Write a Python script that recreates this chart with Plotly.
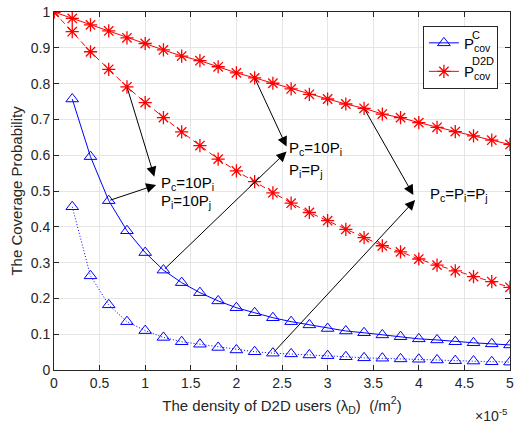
import plotly.graph_objects as go

# x values in units of 1e-5 /m^2
x_red = [0.0, 0.2, 0.4, 0.6, 0.8, 1.0, 1.2, 1.4, 1.6, 1.8, 2.0, 2.2, 2.4, 2.6, 2.8, 3.0,
         3.2, 3.4, 3.6, 3.8, 4.0, 4.2, 4.4, 4.6, 4.8, 5.0]
x_blue = [0.2, 0.4, 0.6, 0.8, 1.0, 1.2, 1.4, 1.6, 1.8, 2.0, 2.2, 2.4, 2.6, 2.8, 3.0,
          3.2, 3.4, 3.6, 3.8, 4.0, 4.2, 4.4, 4.6, 4.8, 5.0]

d2d_equal = [1.0, 0.982, 0.964, 0.947, 0.928, 0.912, 0.894, 0.877, 0.864, 0.847, 0.830,
             0.816, 0.801, 0.785, 0.770, 0.757, 0.743, 0.731, 0.715, 0.705, 0.691,
             0.678, 0.666, 0.654, 0.642, 0.630]
d2d_10 = [1.0, 0.945, 0.889, 0.840, 0.791, 0.747, 0.705, 0.665, 0.627, 0.589, 0.556,
          0.526, 0.495, 0.466, 0.440, 0.417, 0.393, 0.370, 0.347, 0.330, 0.310,
          0.293, 0.277, 0.261, 0.247, 0.231]
cell_10 = [0.757, 0.596, 0.473, 0.389, 0.328, 0.279, 0.244, 0.216, 0.193, 0.174, 0.160,
           0.146, 0.135, 0.126, 0.116, 0.109, 0.104, 0.098, 0.093, 0.087, 0.084,
           0.079, 0.076, 0.073, 0.070]
cell_equal = [0.456, 0.263, 0.182, 0.135, 0.110, 0.091, 0.079, 0.072, 0.063, 0.056,
              0.051, 0.047, 0.045, 0.042, 0.040, 0.037, 0.034, 0.033, 0.031, 0.030,
              0.028, 0.026, 0.025, 0.023, 0.022]

x_ticks = [0, 0.5, 1, 1.5, 2, 2.5, 3, 3.5, 4, 4.5, 5]
x_tick_labels = ["0", "0.5", "1", "1.5", "2", "2.5", "3", "3.5", "4", "4.5", "5"]
y_ticks = [0, 0.1, 0.2, 0.3, 0.4, 0.5, 0.6, 0.7, 0.8, 0.9, 1]
y_tick_labels = ["0", "0.1", "0.2", "0.3", "0.4", "0.5", "0.6", "0.7", "0.8", "0.9", "1"]

SCALE = 1e-5
FONT = "Liberation Sans, Arial, sans-serif"
DARK = "#262626"
BLUE = "#0000FF"
RED = "#FF0000"

fig = go.Figure()

fig.add_trace(go.Scatter(x=[v * SCALE for v in x_blue], y=cell_10, mode="lines+markers",
                         name="P<sub>cov</sub>", legendgroup="a",
                         line=dict(color=BLUE, width=1),
                         marker=dict(symbol="triangle-up-open", size=11, color=BLUE, line=dict(width=1))))
fig.add_trace(go.Scatter(x=[v * SCALE for v in x_red], y=d2d_equal, mode="lines+markers",
                         name="P<sub>cov</sub>", legendgroup="b",
                         line=dict(color=RED, width=1),
                         marker=dict(symbol="asterisk-open", size=11, color=RED, line=dict(width=1.3, color=RED))))
fig.add_trace(go.Scatter(x=[v * SCALE for v in x_red], y=d2d_10, mode="lines+markers",
                         showlegend=False,
                         line=dict(color=RED, width=1, dash="6px,4px"),
                         marker=dict(symbol="asterisk-open", size=11, color=RED, line=dict(width=1.3, color=RED))))
fig.add_trace(go.Scatter(x=[v * SCALE for v in x_blue], y=cell_equal, mode="lines+markers",
                         showlegend=False,
                         line=dict(color=BLUE, width=1, dash="1px,2px"),
                         marker=dict(symbol="triangle-up-open", size=11, color=BLUE, line=dict(width=1))))

ann = []
def arrow(tail, head):
    ann.append(dict(x=head[0] * SCALE, y=head[1], ax=tail[0] * SCALE, ay=tail[1],
                    xref="x", yref="y", axref="x", ayref="y", text="", showarrow=True,
                    arrowhead=2, arrowsize=2, arrowwidth=1, arrowcolor="black", standoff=0))

arrow((0.8, 0.791), (1.10, 0.54))
arrow((0.6, 0.473), (1.12, 0.517))
arrow((2.2, 0.816), (2.55, 0.624))
arrow((1.2, 0.279), (2.55, 0.61))
arrow((3.4, 0.731), (3.94, 0.489))
arrow((2.4, 0.047), (3.96, 0.475))

def label(x, y, text):
    ann.append(dict(x=x * SCALE, y=y, xref="x", yref="y", text=text, showarrow=False,
                    xanchor="left", yanchor="middle", font=dict(family=FONT, size=15, color="black")))

label(1.15, 0.522, "P<sub>c</sub>=10P<sub>i</sub>")
label(1.15, 0.471, "P<sub>i</sub>=10P<sub>j</sub>")
label(2.55, 0.620, "P<sub>c</sub>=10P<sub>i</sub>")
label(2.55, 0.556, "P<sub>i</sub>=P<sub>j</sub>")
label(4.10, 0.491, "P<sub>c</sub>=P<sub>i</sub>=P<sub>j</sub>")

ann.append(dict(x=1.0, y=-0.125, xref="paper", yref="paper", text="×10<sup>-5</sup>",
                showarrow=False, xanchor="right", yanchor="middle",
                font=dict(family=FONT, size=14, color=DARK)))
# legend superscripts
ann.append(dict(x=0.913, y=0.937, xref="paper", yref="paper", text="C", showarrow=False,
                xanchor="left", yanchor="middle", font=dict(family=FONT, size=11, color="black")))
ann.append(dict(x=0.913, y=0.862, xref="paper", yref="paper", text="D2D", showarrow=False,
                xanchor="left", yanchor="middle", font=dict(family=FONT, size=11, color="black")))

axis_common = dict(showline=True, linecolor=DARK, linewidth=1, mirror="ticks", ticks="inside",
                   ticklen=5, tickcolor=DARK, showgrid=True, gridcolor="#e5e5e5", gridwidth=1,
                   zeroline=False, ticklabeloverflow="allow",
                   tickfont=dict(family=FONT, size=14, color=DARK))

fig.update_layout(
    width=518, height=424,
    margin=dict(l=54, r=4, t=12, b=54),
    paper_bgcolor="white", plot_bgcolor="white",
    font=dict(family=FONT, color=DARK),
    xaxis=dict(range=[0, 5 * SCALE], tickvals=[v * SCALE for v in x_ticks], ticktext=x_tick_labels,
               title=dict(text="The density of D2D users (λ<sub>D</sub>)  (/m<sup>2</sup>)",
                          font=dict(family=FONT, size=15, color=DARK), standoff=10),
               **axis_common),
    yaxis=dict(range=[0, 1], tickvals=y_ticks, ticktext=y_tick_labels,
               title=dict(text="The Coverage Probability", font=dict(family=FONT, size=15, color=DARK),
                          standoff=4),
               **axis_common),
    legend=dict(x=0.809, y=0.962, xanchor="left", yanchor="top", bgcolor="white",
                bordercolor=DARK, borderwidth=1, tracegroupgap=6,
                font=dict(family=FONT, size=15, color="black"), itemwidth=30),
    annotations=ann,
    showlegend=True,
)

fig.write_html("out.html")
